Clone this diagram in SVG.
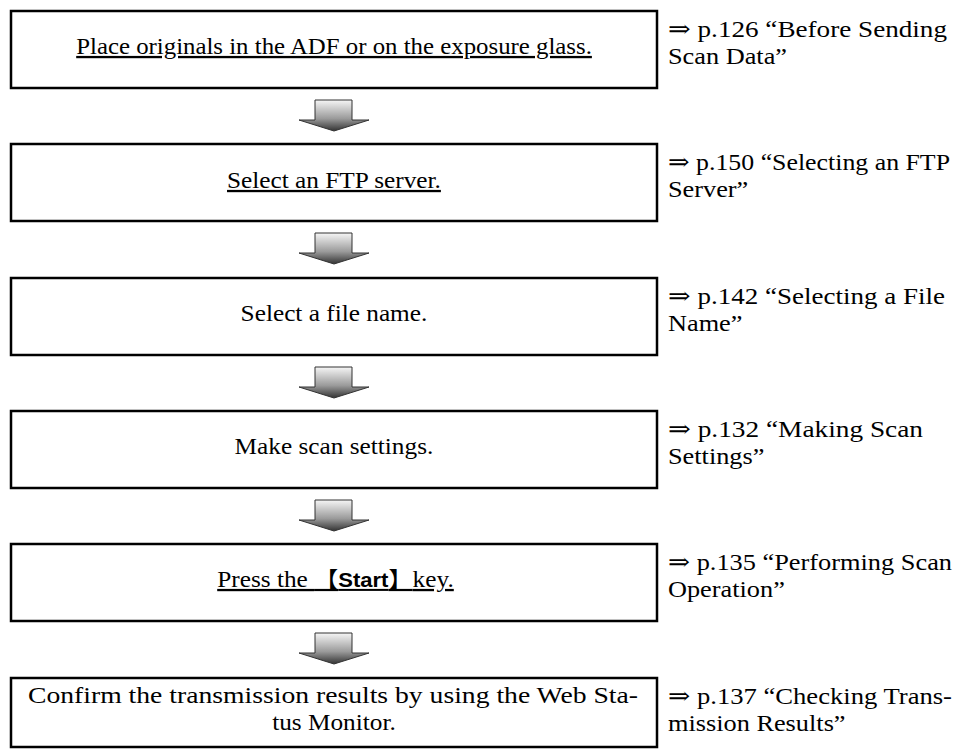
<svg xmlns="http://www.w3.org/2000/svg" width="962" height="750" viewBox="0 0 962 750">
<style>
.box{fill:#fff;stroke:#000;stroke-width:2.5}
.t{font-family:"Liberation Serif","DejaVu Serif",serif;font-size:23px;fill:#000}
.r{font-size:23.5px}
.c{text-anchor:middle}
.u{text-decoration:underline}
.b{font-family:"Liberation Sans",Arial,sans-serif;font-weight:bold;font-size:20px}
.k{font-family:"Noto Sans CJK JP",sans-serif;font-size:22px}
.arr{fill:url(#g);stroke:#333;stroke-width:1}
</style>
<defs>
<linearGradient id="g" x1="0" y1="0" x2="0" y2="1">
<stop offset="0" stop-color="#f6f6f6"/>
<stop offset="0.6" stop-color="#9a9a9a"/>
<stop offset="1" stop-color="#333"/>
</linearGradient>
<path id="a" d="M-19 0 H18 V20 H35 L0 31 L-35 20 H-19 Z"/>
</defs>
<rect width="962" height="750" fill="#fff"/>
<g id="connectors">
<use href="#a" class="arr" x="334" y="100"/>
<use href="#a" class="arr" x="334" y="233"/>
<use href="#a" class="arr" x="334" y="367"/>
<use href="#a" class="arr" x="334" y="500"/>
<use href="#a" class="arr" x="334" y="633"/>
</g>
<g id="step1">
<rect class="box" x="11" y="11" width="646" height="77"/>
<g transform="scale(1.08 1)"><text class="t c u" x="309.3" y="54">Place originals in the ADF or on the exposure glass.</text></g>
<text class="t r" x="668" y="37" textLength="279" lengthAdjust="spacingAndGlyphs">⇒ p.126 “Before Sending</text>
<g transform="scale(1.12 1)"><text class="t r" x="596.4" y="64">Scan Data”</text></g>
</g>
<g id="step2">
<rect class="box" x="11" y="144" width="646" height="77"/>
<g transform="scale(1.1 1)"><text class="t c u" x="303.6" y="188">Select an FTP server.</text></g>
<text class="t r" x="668" y="170" textLength="282" lengthAdjust="spacingAndGlyphs">⇒ p.150 “Selecting an FTP</text>
<g transform="scale(1.12 1)"><text class="t r" x="596.4" y="197">Server”</text></g>
</g>
<g id="step3">
<rect class="box" x="11" y="278" width="646" height="77"/>
<g transform="scale(1.1 1)"><text class="t c" x="303.6" y="321">Select a file name.</text></g>
<text class="t r" x="668" y="304" textLength="277" lengthAdjust="spacingAndGlyphs">⇒ p.142 “Selecting a File</text>
<g transform="scale(1.12 1)"><text class="t r" x="596.4" y="331">Name”</text></g>
</g>
<g id="step4">
<rect class="box" x="11" y="411" width="646" height="77"/>
<g transform="scale(1.1 1)"><text class="t c" x="303.6" y="454">Make scan settings.</text></g>
<text class="t r" x="668" y="437" textLength="255" lengthAdjust="spacingAndGlyphs">⇒ p.132 “Making Scan</text>
<g transform="scale(1.12 1)"><text class="t r" x="596.4" y="464">Settings”</text></g>
</g>
<g id="step5">
<rect class="box" x="11" y="544" width="646" height="77"/>
<g transform="scale(1.1 1)"><text class="t c u" x="305" y="587">Press the <tspan class="k">【</tspan><tspan class="b">Start</tspan><tspan class="k">】</tspan>key.</text></g>
<text class="t r" x="668" y="570" textLength="284" lengthAdjust="spacingAndGlyphs">⇒ p.135 “Performing Scan</text>
<g transform="scale(1.12 1)"><text class="t r" x="596.4" y="597">Operation”</text></g>
</g>
<g id="step6">
<rect class="box" x="11" y="678" width="646" height="69"/>
<text class="t c" x="333" y="703" textLength="610" lengthAdjust="spacingAndGlyphs">Confirm the transmission results by using the Web Sta-</text>
<g transform="scale(1.1 1)"><text class="t c" x="303.6" y="730">tus Monitor.</text></g>
<text class="t r" x="668" y="704" textLength="284" lengthAdjust="spacingAndGlyphs">⇒ p.137 “Checking Trans-</text>
<g transform="scale(1.12 1)"><text class="t r" x="596.4" y="731">mission Results”</text></g>
</g>
</svg>
